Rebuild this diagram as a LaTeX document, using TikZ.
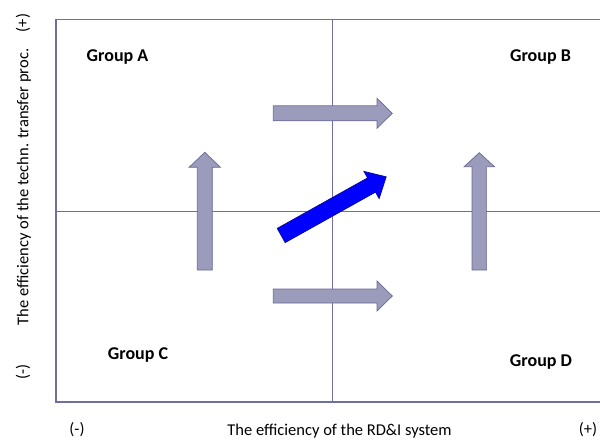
\documentclass[tikz,border=0pt]{standalone}
\usepackage{fontspec}
\setmainfont{Carlito}
\definecolor{boxline}{RGB}{110,110,160}
\definecolor{grayfill}{RGB}{155,155,187}
\definecolor{grayedge}{RGB}{105,105,150}
\definecolor{blueedge}{RGB}{10,10,150}
\newcommand\fatarrow[8]{% style, x, y, angle, length, half shaft, half head, head length
  \begin{scope}[shift={(#2,#3)},rotate=#4]
    \filldraw[#1] (0,-#6) -- ({#5-#8},-#6) -- ({#5-#8},-#7) -- (#5,0) -- ({#5-#8},#7) -- ({#5-#8},#6) -- (0,#6) -- cycle;
  \end{scope}}
\tikzset{
  grouplabel/.style={font=\fontsize{18}{20}\selectfont\bfseries, inner sep=0pt},
  axislabel/.style={font=\fontsize{16.5}{19}\selectfont, inner sep=0pt},
  grayarrow/.style={fill=grayfill, draw=grayedge, line width=0.7pt},
  bluearrow/.style={fill=blue, draw=blueedge, line width=0.7pt},
  frame/.style={draw=boxline, line width=1.6pt},
  divider/.style={draw=boxline, line width=0.8pt}
}
\begin{document}
\begin{tikzpicture}[x=1pt,y=-1pt]
  \useasboundingbox (0,0) rectangle (600,441);
  \clip (0,0) rectangle (600,441);
  % frame and dividers
  \coordinate (tl) at (56,19.5);
  \coordinate (br) at (610,402);
  \coordinate (vtop) at (332.5,19.5);
  \coordinate (vbot) at (332.5,402);
  \coordinate (hl) at (56,211);
  \coordinate (hr) at (610,211);
  \draw[divider] (vtop) -- (vbot);
  \draw[divider] (hl) -- (hr);
  \draw[frame] (tl) rectangle (br);
  % arrows
  \fatarrow{grayarrow}{273.3}{113.3}{0}{119}{7.5}{15}{15.3}
  \fatarrow{grayarrow}{273.3}{296}{0}{119}{7}{15}{15.3}
  \fatarrow{grayarrow}{204.8}{270}{90}{117.7}{7.5}{15.7}{15}
  \fatarrow{grayarrow}{479.3}{270}{90}{117.3}{7.3}{15.2}{14}
  \fatarrow{bluearrow}{281.2}{235.5}{29.2}{120.3}{8.15}{15.6}{16.8}
  % group labels
  \node[grouplabel] (ga) at (117.5,57) {Group A};
  \node[grouplabel] (gb) at (540.5,57) {Group B};
  \node[grouplabel] (gc) at (138,355) {Group C};
  \node[grouplabel] (gd) at (541,362) {Group D};
  % axis labels
  \node[axislabel] (xminus) at (77,430) {(-)};
  \node[axislabel] (xtitle) at (339.5,431) {The efficiency of the RD\&I system};
  \node[axislabel] (xplus) at (588,430) {(+)};
  \node[axislabel, rotate=90] (yminus) at (23,372) {(-)};
  \node[axislabel, rotate=90] (ytitle) at (24,187) {The efficiency of the techn. transfer proc.};
  \node[axislabel, rotate=90] (yplus) at (23,23) {(+)};
\end{tikzpicture}
\end{document}
